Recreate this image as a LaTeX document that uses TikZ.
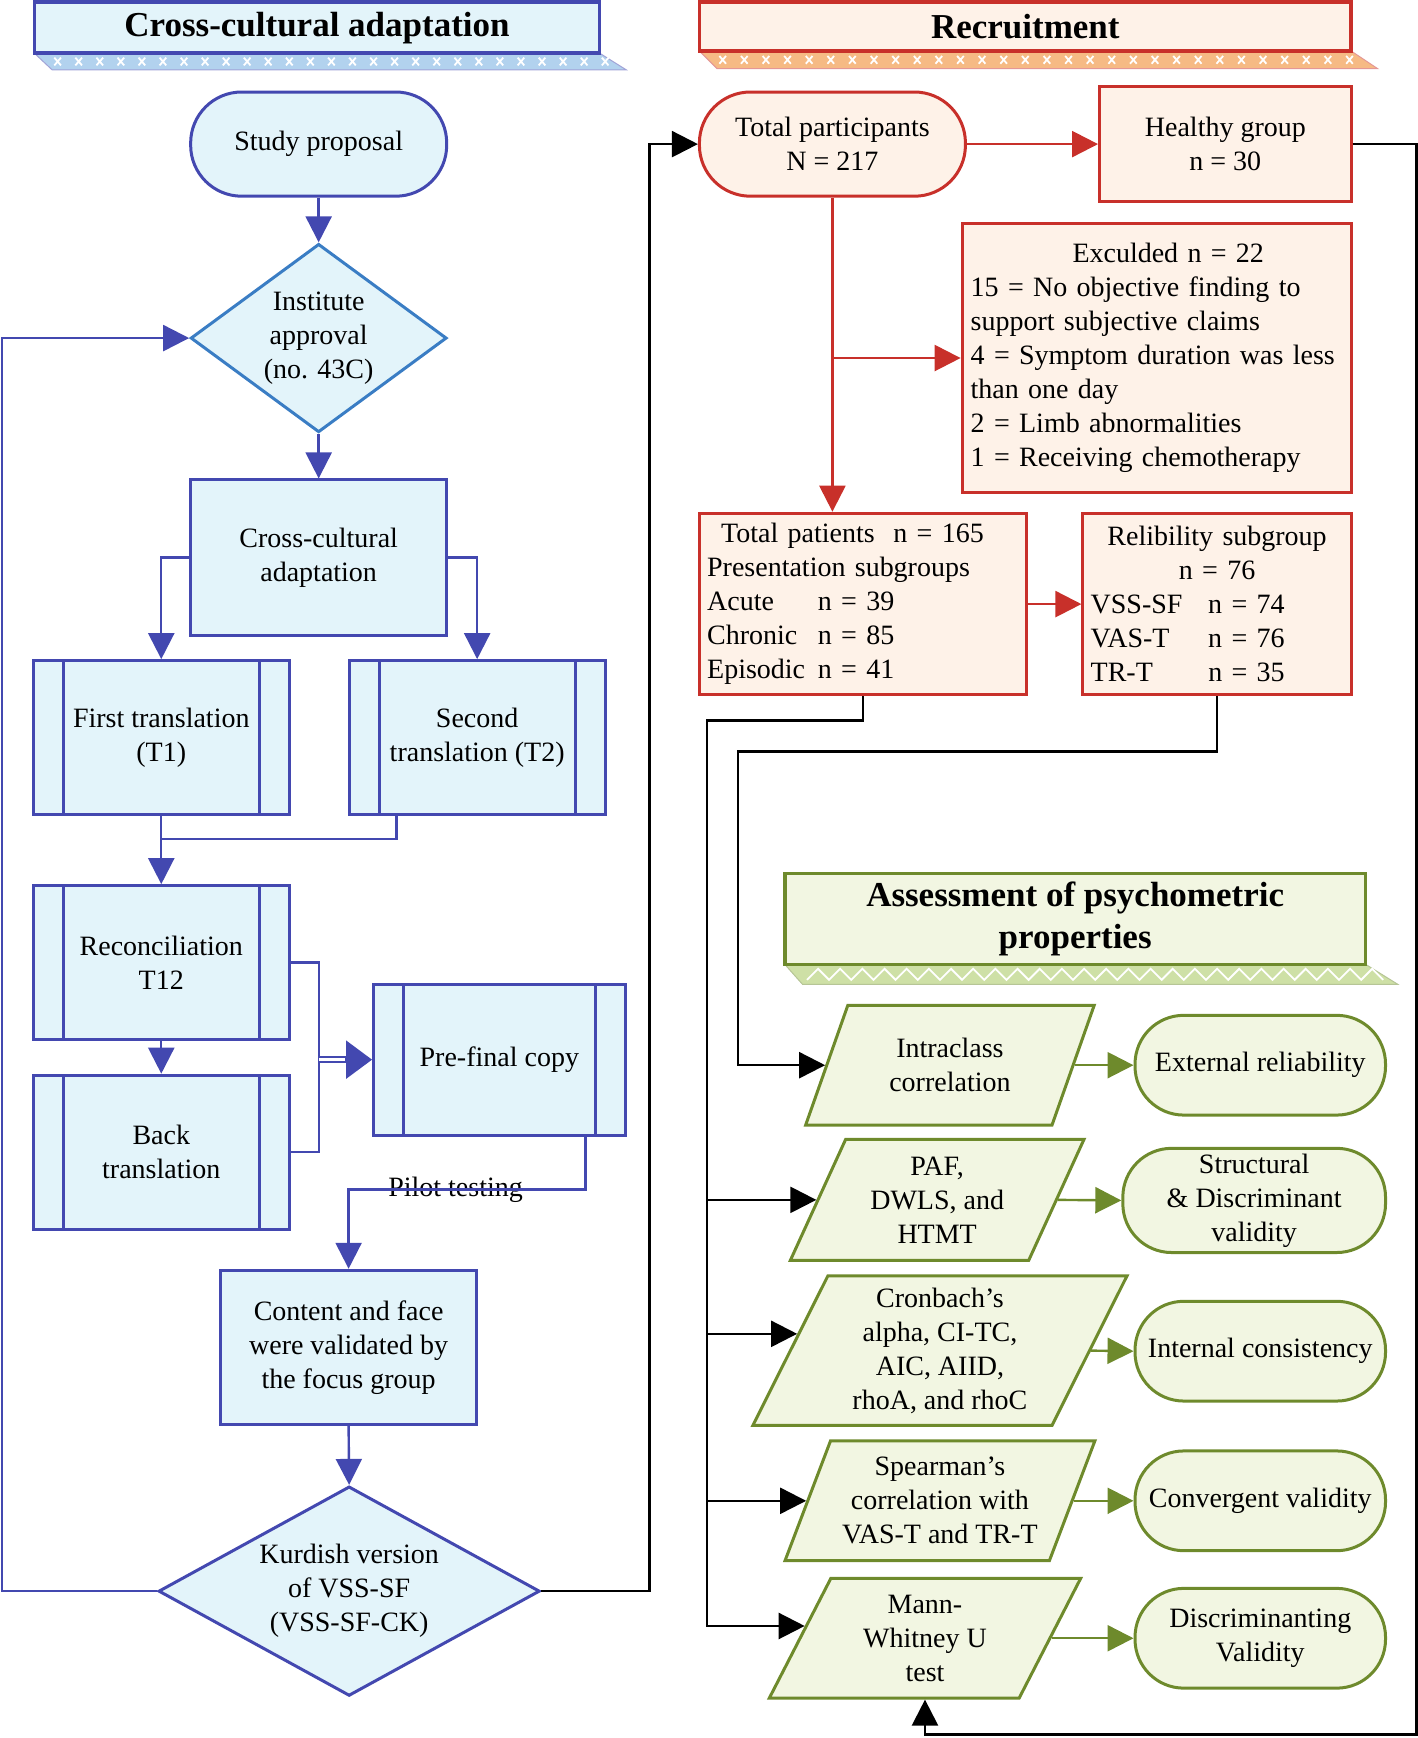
\documentclass[tikz,border=0pt]{standalone}
\usepackage{fontspec}
\setmainfont{Liberation Serif}
\usepackage{tikz}
\usetikzlibrary{shapes.geometric,arrows.meta,calc}

\definecolor{cablue}{RGB}{67,72,176}
\definecolor{casky}{RGB}{58,125,196}
\definecolor{cafill}{RGB}{227,244,250}
\definecolor{caband}{RGB}{178,210,238}
\definecolor{rcred}{RGB}{200,48,42}
\definecolor{rcfill}{RGB}{254,242,232}
\definecolor{rcband}{RGB}{246,186,132}
\definecolor{apgreen}{RGB}{110,138,44}
\definecolor{apfill}{RGB}{242,246,226}
\definecolor{apband}{RGB}{206,224,166}

\newcommand{\px}{0.5544pt}

\tikzset{
  wh/.style 2 args={minimum width=#1*\px, minimum height=#2*\px},
  txt/.style={font=\fontsize{14}{17}\selectfont, align=center, inner sep=0pt},
  headtxt/.style={font=\bfseries\fontsize{17.5}{21}\selectfont, align=center, inner sep=0pt, line width=1.8pt},
  cabox/.style={txt, draw=cablue, fill=cafill, line width=1.5pt},
  castad/.style={cabox, rounded corners=46*\px},
  cadiam/.style={cabox, diamond},
  procbox/.style={cabox, path picture={
      \draw[cablue, line width=1.5pt]
        ([xshift=27*\px]path picture bounding box.north west) -- ([xshift=27*\px]path picture bounding box.south west)
        ([xshift=-27*\px]path picture bounding box.north east) -- ([xshift=-27*\px]path picture bounding box.south east);}},
  rcbox/.style={txt, draw=rcred, fill=rcfill, line width=1.5pt},
  rcstad/.style={rcbox, rounded corners=46*\px},
  apstad/.style={txt, draw=apgreen, fill=apfill, line width=1.5pt, rounded corners=44*\px},
  appara/.style={txt, draw=apgreen, fill=apfill, line width=1.5pt, trapezium,
      trapezium left angle=65, trapezium right angle=115, trapezium stretches=true},
  tip/.style={-{Triangle[length=13pt,width=13pt]}},
  blline/.style={draw=cablue, line width=1.2pt},
  blarr/.style={blline, tip},
  rdarr/.style={draw=rcred, line width=1.2pt, tip},
  bkarr/.style={draw=black, line width=1.2pt, tip},
  bkline/.style={draw=black, line width=1.2pt},
  grarr/.style={draw=apgreen, line width=1.2pt, tip}
}

\begin{document}
\begin{tikzpicture}[x=\px, y=-\px]
  \useasboundingbox (0,0) rectangle (1279,1568);

  % header ribbons
  \filldraw[fill=caband, draw=cablue!50, line width=0.5pt] (31,48) -- (541,48) -- (565,63) -- (47,63) -- cycle;
  \foreach \i in {0,...,26}
    \draw[white, line width=0.9pt] (52+\i*19-3,52) -- (52+\i*19+3,59) (52+\i*19-3,59) -- (52+\i*19+3,52);
  \node[headtxt, draw=cablue, fill=cafill, wh={510}{46}] (headCA) at (286,25) {Cross-cultural adaptation};

  \filldraw[fill=rcband, draw=rcred!50, line width=0.5pt] (631,46) -- (1219,46) -- (1243,62) -- (647,62) -- cycle;
  \foreach \i in {0,...,29}
    \draw[white, line width=0.9pt] (652+\i*19.5-3,50.5) -- (652+\i*19.5+3,57.5) (652+\i*19.5-3,57.5) -- (652+\i*19.5+3,50.5);
  \node[headtxt, draw=rcred, fill=rcfill, wh={588}{44}] (headRC) at (925,24) {Recruitment};

  \filldraw[fill=apband, draw=apgreen!50, line width=0.5pt] (708,870) -- (1232,870) -- (1261,888) -- (724,888) -- cycle;
  \draw[white, line width=0.9pt] (728,884) \foreach \i in {0,...,25} { -- (738+\i*20,874) -- (748+\i*20,884) };
  \node[headtxt, draw=apgreen, fill=apfill, wh={524}{82}] (headAP) at (970,829) {Assessment of psychometric\\properties};

  % cross-cultural adaptation
  \node[castad, wh={231}{94}] (study) at (287.5,130) {Study proposal};
  \node[cadiam, draw=casky, wh={231}{170}, aspect=1.36] (inst) at (287.5,305) {Institute\\approval\\(no. 43C)};
  \node[cabox, wh={231}{140}] (cca) at (287.5,503) {Cross-cultural\\adaptation};
  \node[procbox, wh={231}{139}] (first) at (145.5,665.5) {First translation\\(T1)};
  \node[procbox, wh={231}{139}] (second) at (430.5,665.5) {Second\\translation (T2)};
  \node[procbox, wh={231}{139}] (recon) at (145.5,868.5) {Reconciliation\\T12};
  \node[procbox, wh={231}{139}] (back) at (145.5,1039.5) {Back\\translation};
  \node[procbox, wh={227}{136}] (pre) at (450.5,956) {Pre-final copy};
  \node[txt] (pilot) at (411,1073) {Pilot testing};
  \node[cabox, wh={231}{139}] (content) at (314.5,1215.5) {Content and face\\were validated by\\the focus group};
  \node[cadiam, wh={344}{189}, aspect=1.82] (kurd) at (315,1435.5) {Kurdish version\\of VSS-SF\\(VSS-SF-CK)};

  \coordinate (tjoin) at (145.5,757);
  \coordinate (merge) at (288,956);
  \coordinate (loopL) at (2,305);
  \coordinate (loopR) at (586,130);

  \draw[blarr] (study.south) -- (inst.north);
  \draw[blarr] (inst.south) -- (cca.north);
  \draw[blarr] (cca.west) -| (first.north);
  \draw[blarr] (cca.east) -| (second.north);
  \draw[blline] (first.south) -- (tjoin);
  \draw[blline] ($(second.south west)+(44,0)$) |- (tjoin);
  \draw[blarr] (tjoin) -- (recon.north);
  \draw[blarr] (recon.south) -- (back.north);
  \draw[blline] (recon.east) -| (merge) |- (back.east);
  \draw[cablue, line width=0.9pt, double distance=1.8pt, shorten >=20*\px] (merge) -- (pre.west);
  \draw[blarr, -{Triangle[length=13pt,width=19pt]}] ($(pre.west)+(-24,0)$) -- (pre.west);
  \draw[blarr] ($(pre.south east)+(-37,0)$) |- (pilot.center -| content.north) -- (content.north);
  \draw[blarr] (content.south) -- (kurd.north);
  \draw[blarr] (kurd.west) -| (loopL) -- (inst.west);

  % recruitment
  \node[rcstad, wh={240}{94}] (tpart) at (751,130) {Total participants\\N = 217};
  \node[rcbox, wh={227}{104}] (healthy) at (1105.5,130) {Healthy group\\n = 30};
  \node[rcbox, wh={351}{242}, text width=186pt, align=left] (excl) at (1043.5,323)
    {\makebox[\linewidth]{\hspace{11.6pt}Exculded n = 22}\\
     15 = No objective finding to\\
     support subjective claims\\
     \mbox{4 = Symptom duration was less}\\
     than one day\\
     2 = Limb abnormalities\\
     1 = Receiving chemotherapy};
  \node[rcbox, wh={295}{164}, text width=155.8pt, align=left] (tpat) at (778.5,545)
    {\hspace{7pt}Total patients~~n = 165\\
     Presentation subgroups\\
     \makebox[55.4pt][l]{Acute}n = 39\\
     \makebox[55.4pt][l]{Chronic}n = 85\\
     \makebox[55.4pt][l]{Episodic}n = 41};
  \node[rcbox, wh={242}{164}, text width=126.4pt, align=left] (rel) at (1098,545)
    {\makebox[\linewidth]{Relibility subgroup}\\
     \makebox[\linewidth]{n = 76}\\
     \makebox[58.8pt][l]{VSS-SF}n = 74\\
     \makebox[58.8pt][l]{VAS-T}n = 76\\
     \makebox[58.8pt][l]{TR-T}n = 35};

  \draw[bkarr] (kurd.east) -| (loopR) -- (tpart.west);
  \draw[rdarr] (tpart.east) -- (healthy.west);
  \draw[rdarr] (tpart.south) -- (tpart.south |- tpat.north);
  \draw[rdarr] (tpart.south |- excl.west) -- (excl.west);
  \draw[rdarr] (tpat.east) -- (rel.west);

  % psychometric properties
  \node[appara, wh={262}{108}] (intra) at (857,961) {Intraclass\\correlation};
  \node[appara, wh={265}{109}] (paf) at (845.5,1082.5) {PAF,\\DWLS, and\\HTMT};
  \node[appara, wh={338}{135}] (cron) at (848,1218.5) {Cronbach’s\\alpha, CI-TC,\\AIC, AIID,\\rhoA, and rhoC};
  \node[appara, wh={280}{108}] (spear) at (848,1354) {Spearman’s\\correlation with\\VAS-T and TR-T};
  \node[appara, wh={281}{108}] (mann) at (834.5,1478) {Mann-\\Whitney U\\test};
  \node[apstad, wh={226}{90}] (ext) at (1137,961) {External reliability};
  \node[apstad, wh={237}{94}] (struct) at (1131.5,1083) {Structural\\\& Discriminant\\validity};
  \node[apstad, wh={226}{90}] (intcons) at (1137,1219) {Internal consistency};
  \node[apstad, wh={226}{90}] (conv) at (1137,1354) {Convergent validity};
  \node[apstad, wh={226}{90}] (disc) at (1137,1478) {Discriminanting\\Validity};

  \coordinate (trunkT) at (638,650);
  \coordinate (relturn) at (666,678);
  \coordinate (loopH) at (1278,1565);
  \coordinate (cronL) at ($(cron.bottom left corner)!0.61!(cron.top left corner)$);
  \coordinate (mannL) at ($(mann.bottom left corner)!0.6!(mann.top left corner)$);

  \draw[bkarr] (tpat.south) |- (trunkT) |- (mannL);
  \draw[bkarr] (trunkT |- paf.left side) -- (paf.left side);
  \draw[bkarr] (trunkT |- cronL) -- (cronL);
  \draw[bkarr] (trunkT |- spear.left side) -- (spear.left side);
  \draw[bkarr] (rel.south) |- (relturn) |- (intra.left side);
  \draw[bkarr] (healthy.east) -| (loopH) -| (mann.south);

  \draw[grarr] (intra.right side) -- (ext.west);
  \draw[grarr] (paf.right side) -- (struct.west);
  \draw[grarr] (cron.right side) -- (intcons.west);
  \draw[grarr] (spear.right side) -- (conv.west);
  \draw[grarr] (mann.right side) -- (disc.west);
\end{tikzpicture}
\end{document}
